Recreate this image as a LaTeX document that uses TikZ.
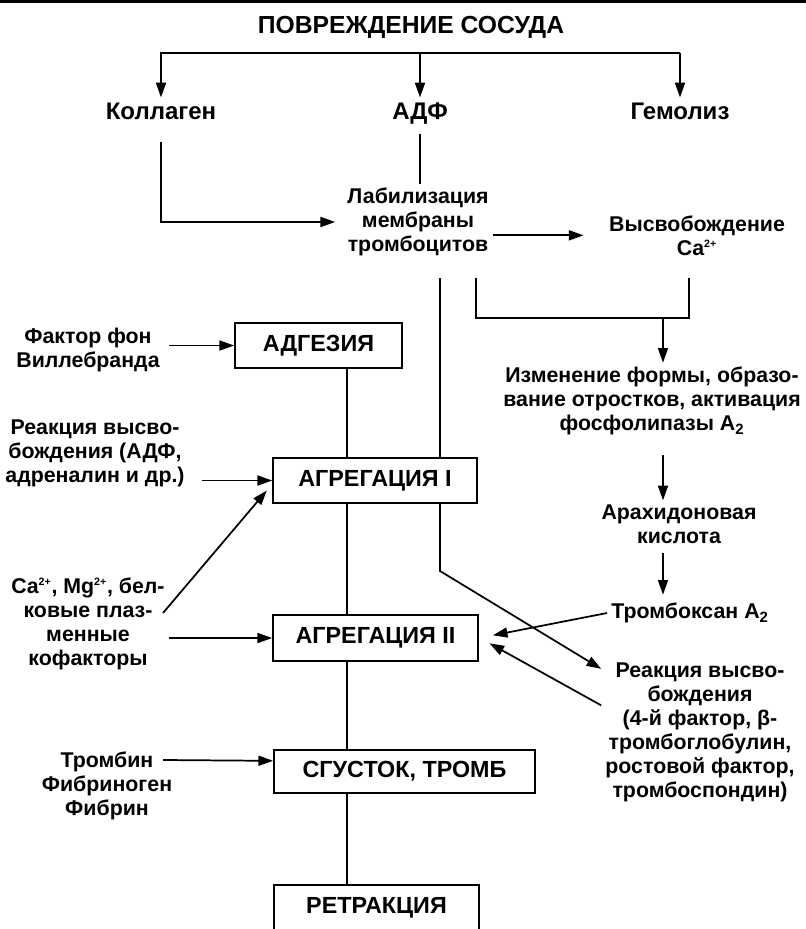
\documentclass[tikz,border=0pt]{standalone}
\usepackage{fontspec}
\setmainfont{Liberation Sans}
\usetikzlibrary{arrows.meta}
\tikzset{
  lbl/.style={font=\bfseries\fontsize{16}{18}\selectfont, align=center, inner sep=3pt},
  toplbl/.style={lbl, font=\bfseries\fontsize{18}{20}\selectfont, text height=1.6ex, text depth=0.3ex},
  stage/.style={draw, line width=1.3pt, fill=white, inner sep=0pt,
    font=\bfseries\fontsize{17.5}{20}\selectfont},
  ln/.style={line width=1.3pt},
  arr/.style={ln, -{Triangle[length=11pt,width=7.5pt]}}
}
\def\u{0.75pt}   % one pixel of the scan
\newcommand{\ion}[1]{\textsuperscript{\fontsize{8}{8}\selectfont #1}}

\begin{document}
\begin{tikzpicture}[x=\u, y=-\u]
\useasboundingbox (0,0) rectangle (806,929);
\draw[line width=2.5pt] (0,1.5) -- (806,1.5);

% top: damage and its three causes
\node[lbl, font=\bfseries\fontsize{18.5}{20}\selectfont] (title) at (411,27) {ПОВРЕЖДЕНИЕ СОСУДА};
\node[toplbl] (koll) at (161,115) {Коллаген};
\node[toplbl] (adf)  at (420,115) {АДФ};
\node[toplbl] (gem)  at (680,115) {Гемолиз};
\node[lbl] (lab)  at (418,222) {Лабилизация\\мембраны\\тромбоцитов};
\node[lbl] (vys)  at (697,236) {Высвобождение\\Ca\ion{2+}};

% right column: platelet activation cascade
\node[lbl] (izm)   at (652,401) {Изменение формы, образо-\\вание отростков, активация\\фосфолипазы A\textsubscript{2}};
\node[lbl] (arah)  at (679,524) {Арахидоновая\\кислота};
\node[lbl] (trom)  at (690,613) {Тромбоксан A\textsubscript{2}};
\node[lbl] (reakR) at (700,732) {Реакция высво-\\бождения\\(4-й фактор, β-\\тромбоглобулин,\\ростовой фактор,\\тромбоспондин)};

% left column: factors
\node[lbl] (fvw)   at (88,350)  {Фактор фон\\Виллебранда};
\node[lbl] (reakL) at (95,453)  {Реакция высво-\\бождения (АДФ,\\адреналин и др.)};
\node[lbl] (caL)   at (88,624)  {Ca\ion{2+}, Mg\ion{2+}, бел-\\ковые плаз-\\менные\\кофакторы};
\node[lbl] (tromb) at (107,786) {Тромбин\\Фибриноген\\Фибрин};

% stages
\node[stage, minimum width=167*\u, minimum height=45*\u] (adg)  at (318.5,345.5) {АДГЕЗИЯ};
\node[stage, minimum width=204*\u, minimum height=45*\u] (agr1) at (375,480.5)   {АГРЕГАЦИЯ I};
\node[stage, minimum width=205*\u, minimum height=46*\u] (agr2) at (375.5,638)   {АГРЕГАЦИЯ II};
\node[stage, minimum width=261*\u, minimum height=43*\u] (sgus) at (404.5,771.5) {СГУСТОК, ТРОМБ};
\node[stage, minimum width=205*\u, minimum height=46*\u] (retr) at (376.5,908)   {РЕТРАКЦИЯ};

\coordinate (brL) at (160,53);
\coordinate (brR) at (680,53);
\coordinate (spine) at (347,0);
\coordinate (sp0) at (440,278);
\coordinate (sp1) at (440,571);
\coordinate (bLt) at (476,278);
\coordinate (bL)  at (476,318);
\coordinate (bR)  at (689,318);
\coordinate (bRt) at (689,278);
\coordinate (bM)  at (663,318);
\coordinate (caD) at (163,613);

\draw[ln] (brL) -- (brR);
\foreach \n in {koll,adf,gem}
  \draw[arr, shorten >=5pt] (\n |- brL) -- (\n);
\draw[arr, shorten >=6pt] ([yshift=-12pt]koll.south) |- (lab);
\draw[ln, shorten <=6pt] (adf.south) -- (adf.south |- lab.north);
\draw[arr, shorten >=16pt] ([yshift=-10pt]lab.east) -- ([yshift=-10pt]lab.east -| vys.west);

% long line behind the aggregation box
\draw[ln] (sp0) -- (agr1.north -| sp0);
\draw[arr] (agr1.south -| sp0) -- (sp1) -- ([yshift=-8pt]reakR.north west);

% bracket and cascade
\draw[ln] (bLt) -- (bL) -- (bR) -- (bRt);
\draw[arr] (bM) -- (bM |- izm.north);
\draw[arr, shorten <=12pt] (bM |- izm.south) -- (bM |- arah.north);
\draw[arr, shorten <=4pt, shorten >=3pt] (bM |- arah.south) -- (bM |- trom.north);
\draw[arr] (trom.west) -- ([xshift=10.5pt,yshift=2pt]agr2.east);
\draw[arr] ([yshift=20pt]reakR.west) -- ([xshift=8pt,yshift=-4pt]agr2.east);

% left inputs
\draw[arr, shorten <=4pt] (fvw.east |- adg.west) -- (adg.west);
\draw[arr, shorten <=10pt] (reakL.east |- agr1.west) -- (agr1.west);
\draw[arr] (caD) -- ([xshift=-4pt,yshift=10pt]agr1.south west);
\draw[arr] (caL.east |- agr2.west) -- (agr2.west);
\draw[arr] ([xshift=-10pt,yshift=19.5pt]tromb.east) -- ([yshift=8pt]sgus.west);

% spine
\foreach \a/\b in {adg/agr1,agr1/agr2,agr2/sgus,sgus/retr}
  \draw[ln] (\a.south -| spine) -- (\b.north -| spine);
\end{tikzpicture}
\end{document}
